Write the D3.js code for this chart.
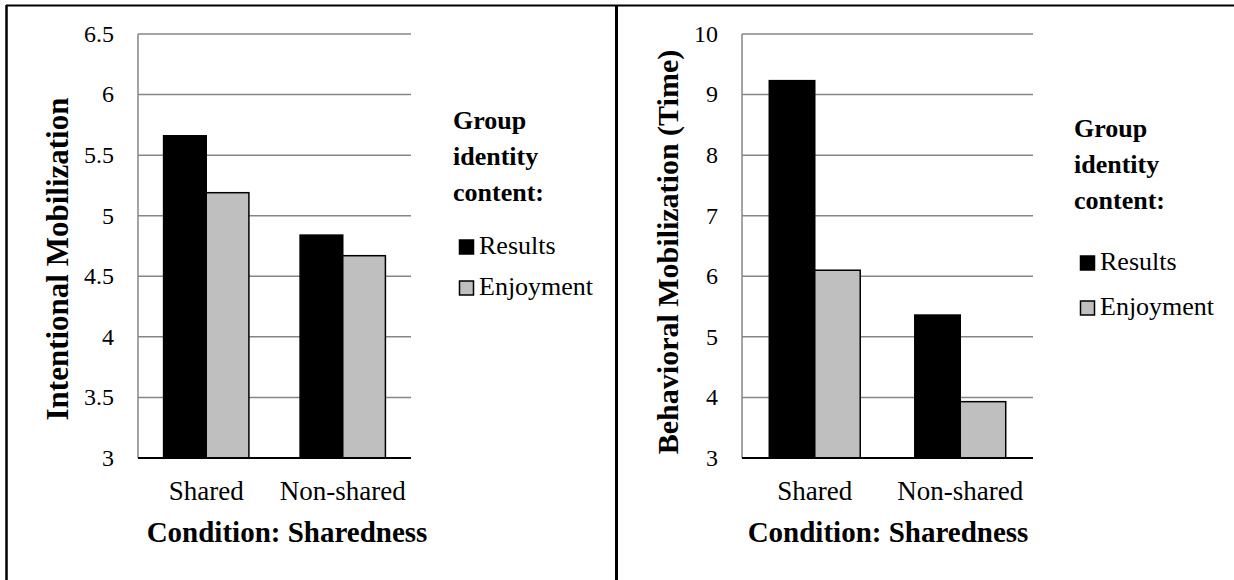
<!DOCTYPE html>
<html>
<head>
<meta charset="utf-8">
<script src="https://cdn.jsdelivr.net/npm/d3@7"></script>
<style>
  html, body { margin: 0; padding: 0; background: #fff; }
  svg text { font-family: "Liberation Serif", "Times New Roman", serif; fill: #000; }
</style>
</head>
<body>
<div id="chart"></div>
<script>
// data
var categories = ["Shared", "Non-shared"];
var series = ["Results", "Enjoyment"];
var intentionalResults = [5.66, 4.84];
var intentionalEnjoyment = [5.19, 4.67];
var behavioralResults = [9.23, 5.36];
var behavioralEnjoyment = [6.10, 3.93];
var intentionalTicks = [3, 3.5, 4, 4.5, 5, 5.5, 6, 6.5];
var behavioralTicks = [3, 4, 5, 6, 7, 8, 9, 10];

var seriesColor = { "Results": "#000000", "Enjoyment": "#bfbfbf" };

const svg = d3.select("#chart").append("svg")
    .attr("width", 1234)
    .attr("height", 580);

// outer frame + separator
svg.append("line").attr("x1", 6).attr("x2", 1234).attr("y1", 5.5).attr("y2", 5.5)
    .attr("stroke", "#000").attr("stroke-width", 2);
svg.append("line").attr("x1", 6.5).attr("x2", 6.5).attr("y1", 5).attr("y2", 580)
    .attr("stroke", "#000").attr("stroke-width", 2.5);
svg.append("line").attr("x1", 616.5).attr("x2", 616.5).attr("y1", 5).attr("y2", 580)
    .attr("stroke", "#000").attr("stroke-width", 3);

function drawPanel(cfg) {
    const g = svg.append("g");

    const y = d3.scaleLinear().domain(cfg.domain).range([458, 34]);
    const x0 = d3.scaleBand().domain(categories).range([cfg.left, cfg.right])
        .paddingInner(0).paddingOuter(0);
    const x1 = d3.scaleBand().domain(series).range([0, x0.bandwidth()])
        .paddingInner(0).paddingOuter(0.6);

    // gridlines
    g.append("g").selectAll("line")
        .data(cfg.ticks.filter(d => d !== cfg.domain[0]))
        .enter().append("line")
        .attr("x1", cfg.left).attr("x2", cfg.right)
        .attr("y1", d => y(d)).attr("y2", d => y(d))
        .attr("stroke", "#868686").attr("stroke-width", 1.5);

    // left axis line
    g.append("line")
        .attr("x1", cfg.left).attr("x2", cfg.left)
        .attr("y1", y(cfg.domain[1])).attr("y2", y(cfg.domain[0]))
        .attr("stroke", "#868686").attr("stroke-width", 1.5);

    // tick labels
    g.append("g").selectAll("text")
        .data(cfg.ticks)
        .enter().append("text")
        .attr("x", cfg.left - 24)
        .attr("y", d => y(d))
        .attr("dy", "0.33em")
        .attr("text-anchor", "end")
        .style("font-size", "24px")
        .text(d => d3.format("")(d));

    // bars
    const rows = categories.map((c, i) => ({
        cat: c,
        vals: [
            { s: "Results", v: cfg.results[i] },
            { s: "Enjoyment", v: cfg.enjoyment[i] }
        ]
    }));

    const grp = g.append("g").selectAll("g")
        .data(rows)
        .enter().append("g")
        .attr("transform", d => `translate(${x0(d.cat)},0)`);

    grp.selectAll("rect")
        .data(d => d.vals)
        .enter().append("rect")
        .attr("x", d => x1(d.s))
        .attr("width", x1.bandwidth())
        .attr("y", d => y(d.v))
        .attr("height", d => y(cfg.domain[0]) - y(d.v))
        .attr("fill", d => seriesColor[d.s])
        .attr("stroke", "#000")
        .attr("stroke-width", 1.5);

    // baseline
    g.append("line")
        .attr("x1", cfg.left).attr("x2", cfg.right)
        .attr("y1", y(cfg.domain[0])).attr("y2", y(cfg.domain[0]))
        .attr("stroke", "#000").attr("stroke-width", 2);

    // category labels
    g.append("g").selectAll("text")
        .data(categories)
        .enter().append("text")
        .attr("x", d => x0(d) + x0.bandwidth() / 2)
        .attr("y", 500)
        .attr("text-anchor", "middle")
        .style("font-size", "27px")
        .text(d => d);

    // x axis title
    g.append("text")
        .attr("x", cfg.xTitleX)
        .attr("y", 542)
        .attr("text-anchor", "middle")
        .style("font-size", "29px")
        .style("font-weight", "bold")
        .text("Condition: Sharedness");

    // y axis title
    g.append("text")
        .attr("transform", `translate(${cfg.yTitleX},${cfg.yTitleY}) rotate(-90)`)
        .attr("text-anchor", "middle")
        .style("font-size", cfg.yTitleSize + "px")
        .style("font-weight", "bold")
        .text(cfg.yTitle);

    // legend
    const lg = g.append("g").attr("transform", `translate(${cfg.legendX},0)`);
    ["Group", "identity", "content:"].forEach((t, i) => {
        lg.append("text")
            .attr("x", 0)
            .attr("y", cfg.legendTop + i * 36)
            .style("font-size", "26px")
            .style("font-weight", "bold")
            .text(t);
    });
    series.forEach((s, i) => {
        const by = cfg.legendItemY + i * cfg.legendGap;
        lg.append("rect")
            .attr("x", 6.5).attr("y", by - 14)
            .attr("width", 14).attr("height", 14)
            .attr("fill", seriesColor[s])
            .attr("stroke", "#000").attr("stroke-width", 1.5);
        lg.append("text")
            .attr("x", 26)
            .attr("y", by)
            .style("font-size", "26px")
            .text(s);
    });
}

drawPanel({
    left: 138, right: 411,
    domain: [3, 6.5], ticks: intentionalTicks,
    results: intentionalResults, enjoyment: intentionalEnjoyment,
    xTitleX: 287,
    yTitle: "Intentional Mobilization", yTitleX: 68, yTitleY: 259, yTitleSize: 31,
    legendX: 453, legendTop: 129, legendItemY: 254, legendGap: 41
});

drawPanel({
    left: 742, right: 1033,
    domain: [3, 10], ticks: behavioralTicks,
    results: behavioralResults, enjoyment: behavioralEnjoyment,
    xTitleX: 888,
    yTitle: "Behavioral Mobilization (Time)", yTitleX: 678, yTitleY: 252, yTitleSize: 30,
    legendX: 1074, legendTop: 137, legendItemY: 270, legendGap: 45
});
</script>
</body>
</html>
